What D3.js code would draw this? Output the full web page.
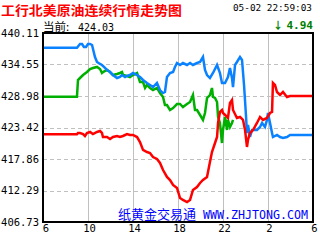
<!DOCTYPE html>
<html><head><meta charset="utf-8">
<script src="https://cdn.jsdelivr.net/npm/d3@7/dist/d3.min.js"></script>
<style>html,body{margin:0;padding:0;background:#fff;}svg{display:block;}</style>
</head><body>
<svg id="c" width="320" height="240"></svg>
<script>
const titleText = "工行北美原油连续行情走势图";
const currentLabel = "当前:";
const currentValue = "424.03";
const dateText = "05-02 22:59:03";
const changeText = "4.94";
const watermarkCn = "纸黄金交易通";
const watermarkEn = "WWW.ZHJTONG.COM";

const yTicks = [440.11, 434.55, 428.98, 423.42, 417.86, 412.29, 406.73];
const xTicks = [6, 10, 14, 18, 22, 26, 30];
const xTickLabels = ["6", "10", "14", "18", "22", "2", "6"];

const blueSeries = [[6.00,437.51],[9.02,437.51],[9.29,438.17],[9.47,438.17],[9.64,437.64],[9.82,437.64],[10.00,438.17],[10.18,438.17],[10.36,437.99],[10.62,435.87],[10.80,434.99],[11.07,434.64],[11.24,434.46],[11.42,434.11],[11.69,433.58],[11.96,433.22],[12.22,432.69],[12.58,432.16],[12.84,432.34],[13.02,432.69],[13.29,432.34],[13.47,432.52],[13.73,432.69],[14.00,433.05],[14.36,432.69],[14.62,432.34],[14.89,431.81],[15.24,431.28],[15.51,430.93],[15.78,430.57],[16.13,431.28],[16.40,430.04],[16.67,429.51],[16.84,429.69],[17.02,432.34],[17.29,433.05],[17.56,433.22],[17.73,434.11],[17.91,434.81],[18.18,434.46],[18.44,434.81],[18.80,434.46],[19.07,434.81],[19.33,434.46],[19.69,434.81],[19.96,434.99],[20.22,435.87],[20.40,433.58],[20.58,432.69],[20.84,432.16],[21.11,433.05],[21.47,434.46],[21.73,433.05],[21.91,431.28],[22.18,431.28],[22.44,432.34],[22.62,433.93],[22.80,432.16],[22.89,430.57],[23.07,434.46],[23.24,434.99],[23.51,435.87],[23.69,435.34],[23.87,430.93],[24.04,425.63],[24.13,422.45],[24.22,423.86],[24.40,421.74],[24.58,422.98],[25.02,422.98],[25.29,423.51],[25.47,424.22],[25.73,423.51],[25.91,424.75],[26.00,425.98],[26.18,424.22],[26.36,422.45],[26.44,421.74],[26.80,422.10],[27.07,421.74],[27.33,421.57],[27.69,421.74],[27.96,422.10],[30.00,422.10]];

const greenSeries = [[6.00,428.86],[9.02,428.86],[9.11,431.81],[9.29,432.16],[9.56,432.69],[9.91,433.22],[10.18,433.75],[10.44,433.93],[10.80,434.11],[11.07,433.75],[11.24,433.05],[11.33,433.22],[11.69,433.58],[11.96,433.22],[12.22,432.69],[12.58,432.87],[12.84,433.05],[13.02,433.22],[13.11,432.69],[13.47,432.52],[13.73,432.34],[14.00,432.69],[14.36,433.05],[14.62,431.46],[14.89,431.46],[15.07,430.40],[15.24,430.93],[15.51,430.40],[15.78,430.04],[16.13,430.40],[16.40,429.51],[16.67,428.81],[16.84,427.39],[17.02,427.39],[17.29,426.51],[17.56,426.86],[17.91,427.57],[18.18,427.57],[18.44,427.04],[18.80,427.57],[19.07,427.92],[19.33,429.16],[19.51,426.51],[19.69,426.51],[19.96,425.63],[20.22,424.75],[20.40,425.98],[20.58,428.63],[20.84,429.16],[21.02,430.40],[21.11,428.81],[21.29,428.63],[21.47,427.92],[21.56,425.28],[21.73,424.22],[21.91,420.68],[22.00,422.98],[22.18,425.28],[22.36,422.98],[22.44,424.75],[22.62,423.51],[22.80,424.22],[22.89,424.75]];

const redSeries = [[6.00,422.22],[9.02,422.22],[9.11,422.45],[9.29,422.45],[9.56,422.27],[9.73,421.92],[9.91,422.45],[10.18,422.63],[10.44,422.27],[10.80,422.63],[11.07,422.80],[11.24,422.45],[11.33,421.74],[11.69,421.74],[11.96,421.39],[12.22,421.74],[12.58,421.92],[12.84,421.74],[13.11,421.92],[13.47,422.27],[13.73,422.10],[14.00,422.10],[14.36,421.74],[14.62,420.86],[14.89,419.45],[15.24,419.09],[15.51,418.92],[15.78,418.21],[16.13,417.86],[16.40,417.15],[16.67,415.91],[17.02,414.68],[17.29,414.15],[17.56,413.27],[17.91,412.74],[18.18,410.97],[18.44,410.62],[18.80,410.26],[19.07,410.62],[19.33,412.38],[19.69,412.91],[19.96,413.62],[20.22,414.15],[20.58,414.68],[20.84,417.33],[21.02,419.09],[21.29,420.68],[21.47,421.74],[21.56,424.22],[21.73,426.16],[21.91,426.51],[22.00,425.98],[22.36,425.28],[22.44,425.10],[22.62,427.75],[22.80,428.28],[22.89,426.51],[23.24,425.10],[23.51,425.28],[23.78,424.75],[23.96,422.98],[24.13,419.98],[24.22,421.21],[24.40,422.45],[24.67,422.98],[25.02,424.22],[25.29,425.28],[25.56,424.75],[25.91,425.10],[26.18,425.98],[26.36,426.16],[26.44,431.28],[26.62,430.93],[26.80,429.69],[27.07,429.16],[27.33,429.69],[27.69,428.81],[27.96,428.98],[30.00,428.98]];

const svg = d3.select("#c");
const L = 43, R = 313, T = 33, B = 222;
const x = d3.scaleLinear().domain([6, 30]).range([L, R]);
const y = d3.scaleLinear().domain([406.73, 440.11]).range([B, T]);
const mono = "'DejaVu Sans Mono', monospace";
const cjk = "'Noto Sans CJK SC', sans-serif";

// header
svg.append("text").attr("x", 1).attr("y", 15).attr("fill", "#ff0000")
  .attr("font-family", cjk).attr("font-weight", "bold").attr("font-size", 13)
  .attr("textLength", 181).attr("lengthAdjust", "spacingAndGlyphs").text(titleText);
svg.append("text").attr("x", 312).attr("y", 10.5).attr("text-anchor", "end")
  .attr("font-family", mono).attr("font-size", 9.4).attr("fill", "#000").text(dateText);
svg.append("text").attr("x", 43).attr("y", 31).attr("font-family", cjk)
  .attr("font-size", 11.5).attr("fill", "#000").text(currentLabel);
svg.append("text").attr("x", 78).attr("y", 31).attr("font-family", mono)
  .attr("font-size", 10).attr("fill", "#000").text(currentValue);
svg.append("text").attr("x", 283).attr("y", 29).attr("text-anchor", "end")
  .attr("font-family", cjk).attr("font-weight", "bold").attr("font-size", 10).attr("fill", "#008000").text("↓");
svg.append("text").attr("x", 313).attr("y", 29).attr("text-anchor", "end")
  .attr("font-family", mono).attr("font-weight", "bold").attr("font-size", 11).attr("fill", "#008000").text(changeText);

// grid
const g = svg.append("g");
g.selectAll("line.h").data(yTicks.slice(1, -1)).join("line")
  .attr("x1", L).attr("x2", R).attr("y1", d => Math.round(y(d)) + 0.5).attr("y2", d => Math.round(y(d)) + 0.5)
  .attr("stroke", "#c0c0c0").attr("stroke-dasharray", "4,3");
g.selectAll("line.v").data(xTicks.slice(1, -1)).join("line")
  .attr("y1", T).attr("y2", B).attr("x1", d => Math.round(x(d)) + 0.5).attr("x2", d => Math.round(x(d)) + 0.5)
  .attr("stroke", "#c0c0c0");

// watermark
const wm = svg.append("g");
wm.append("text").attr("x", 118).attr("y", 219).attr("fill", "#0000ff")
  .attr("font-family", cjk).attr("font-size", 12.8).attr("textLength", 78).attr("lengthAdjust", "spacingAndGlyphs").text(watermarkCn);
wm.append("text").attr("x", 203).attr("y", 219).attr("fill", "#0000ff")
  .attr("font-family", mono).attr("font-size", 11.6).attr("textLength", 105).attr("lengthAdjust", "spacingAndGlyphs").text(watermarkEn);

// lines
const line = d3.line().x(d => x(d[0])).y(d => y(d[1]));
[[greenSeries, "#00b000"], [blueSeries, "#0a82ff"], [redSeries, "#ff0000"]].forEach(([s, c]) => {
  svg.append("path").datum(s).attr("d", line).attr("fill", "none")
    .attr("stroke", c).attr("stroke-width", 2.5).attr("stroke-linejoin", "miter");
});

// border
svg.append("rect").attr("x", L).attr("y", T).attr("width", R - L).attr("height", B - T)
  .attr("fill", "none").attr("stroke", "#000").attr("stroke-width", 2);

// axes
const ya = svg.append("g").attr("transform", `translate(${L},0)`)
  .call(d3.axisLeft(y).tickValues(yTicks).tickSize(0).tickPadding(4).tickFormat(d3.format(".2f")));
ya.select(".domain").remove();
ya.selectAll("text").attr("font-family", mono).attr("font-size", 10.5).attr("fill", "#000");

const xa = svg.append("g").attr("transform", `translate(0,${B})`)
  .call(d3.axisBottom(x).tickValues(xTicks).tickSize(0).tickPadding(3).tickFormat((d, i) => xTickLabels[i]));
xa.select(".domain").remove();
xa.selectAll("text").attr("font-family", mono).attr("font-size", 10.5).attr("fill", "#000")
  .attr("dx", (d, i) => i === 0 ? 2.5 : 1);
</script>
</body></html>
